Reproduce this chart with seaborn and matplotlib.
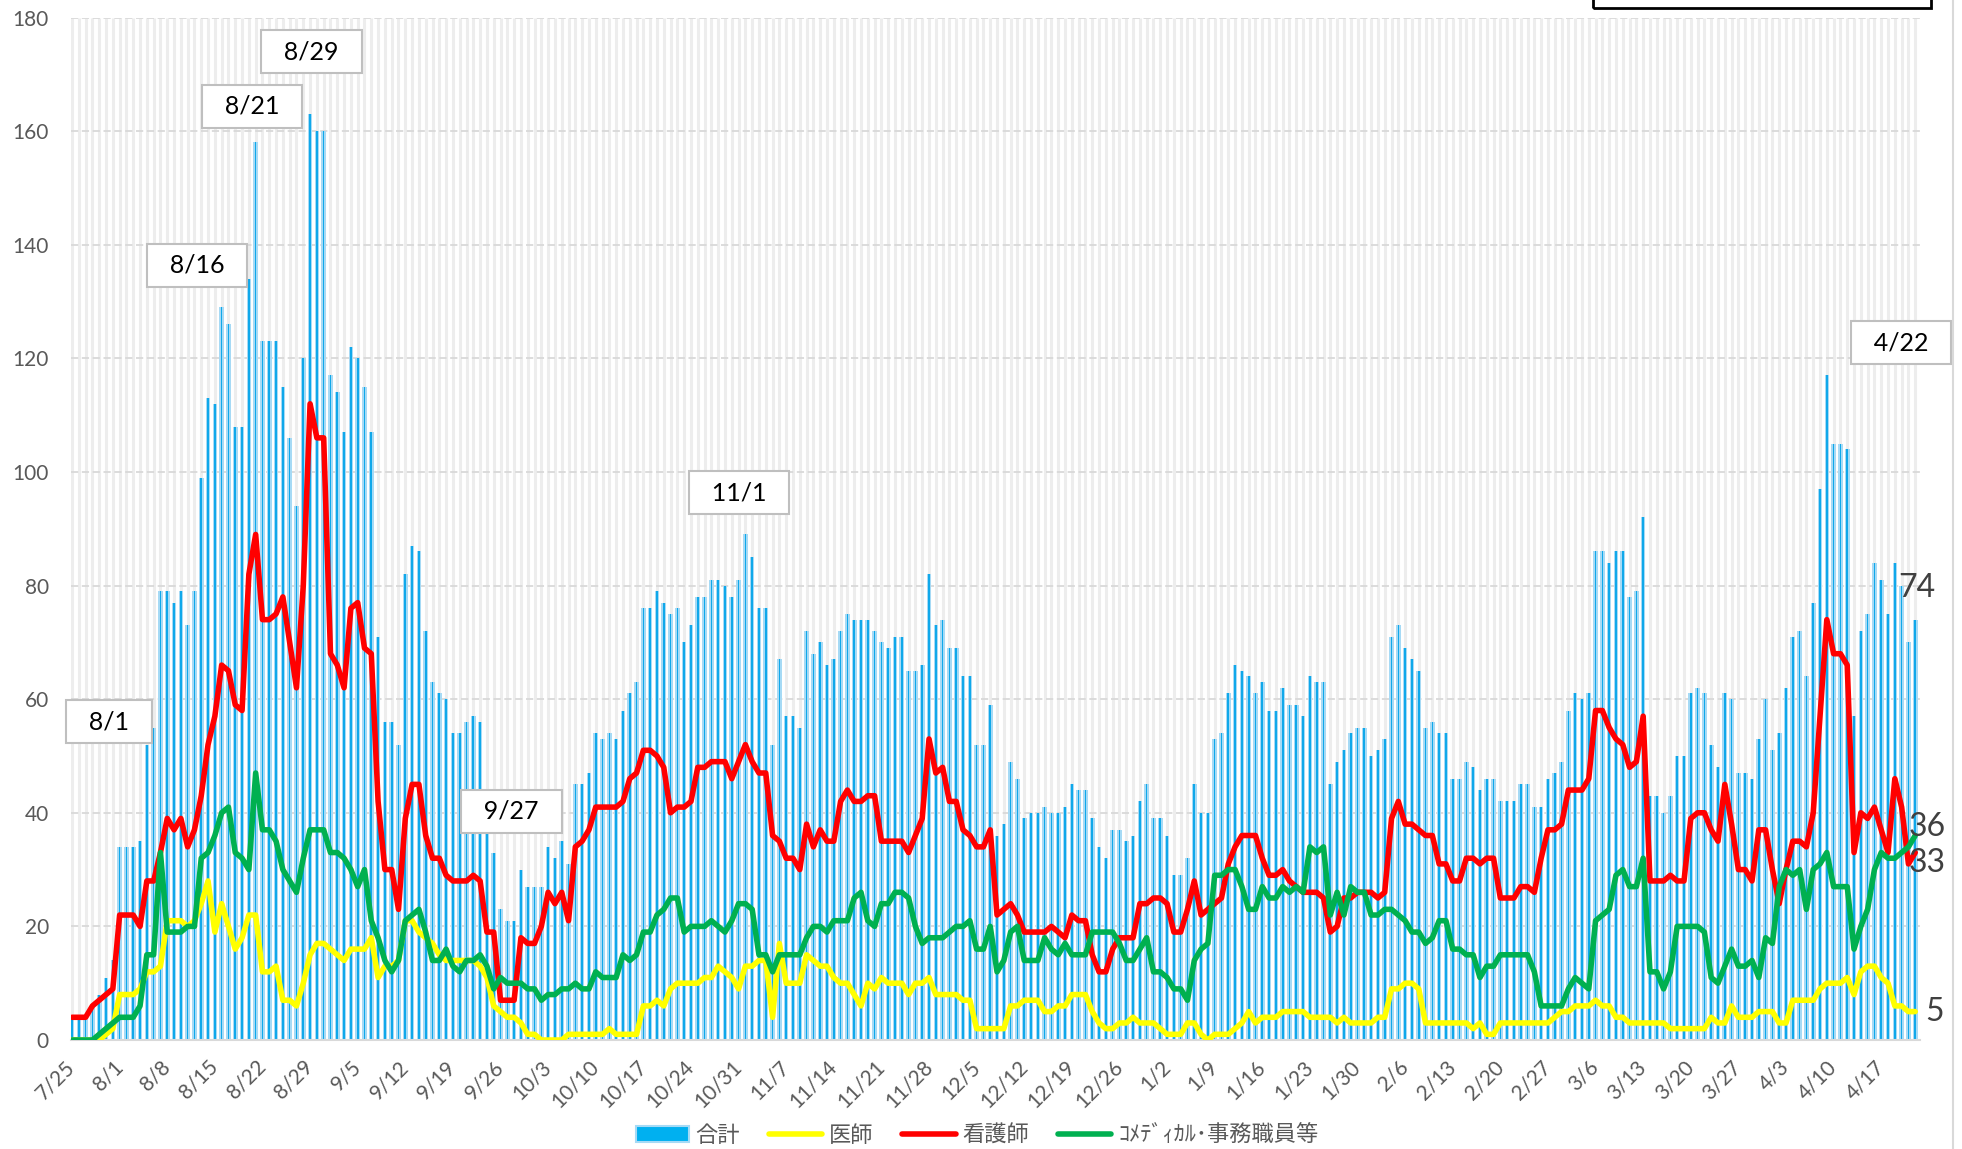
import numpy as np
import pandas as pd
import matplotlib
matplotlib.use("Agg")
import matplotlib.pyplot as plt
import seaborn as sns
from matplotlib.patches import Patch, Rectangle
from matplotlib.lines import Line2D

# daily values 7/25 .. 4/22
total = [4, 4, 4, 6, 8, 11, 14,
         34, 34, 34, 35, 52, 55, 79, 79, 77, 79, 73, 79, 99, 113,
         112, 129, 126, 108, 108, 134, 158, 123, 123, 123, 115, 106, 94, 120,
         163, 160, 160, 117, 114, 107, 122, 120, 115, 107, 71, 56, 56, 52,
         82, 87, 86, 72, 63, 61, 60, 54, 54, 56, 57, 56, 43, 33,
         23, 21, 21, 30, 27, 27, 27, 34, 32, 35, 31, 45, 45, 47,
         54, 53, 54, 53, 58, 61, 63, 76, 76, 79, 77, 75, 76, 70,
         73, 78, 78, 81, 81, 80, 78, 81, 89, 85, 76, 76, 52, 67,
         57, 57, 55, 72, 68, 70, 66, 67, 72, 75, 74, 74, 74, 72,
         70, 69, 71, 71, 65, 65, 66, 82, 73, 74, 69, 69, 64, 64,
         52, 52, 59, 36, 38, 49, 46, 39, 40, 40, 41, 40, 40, 41,
         45, 44, 44, 39, 34, 32, 37, 37, 35, 36, 42, 45, 39, 39,
         36, 29, 29, 32, 45, 40, 40, 53, 54, 61, 66, 65, 64, 61,
         63, 58, 58, 62, 59, 59, 57, 64, 63, 63, 45, 49, 51, 54,
         55, 55, 50, 51, 53, 71, 73, 69, 67, 65, 55, 56, 54, 54,
         46, 46, 49, 48, 44, 46, 46, 42, 42, 42, 45, 45, 41, 41,
         46, 47, 49, 58, 61, 60, 61, 86, 86, 84, 86, 86, 78, 79,
         92, 43, 43, 40, 43, 50, 50, 61, 62, 61, 52, 48, 61, 60,
         47, 47, 46, 53, 60, 51, 54, 62, 71, 72, 64, 77, 97, 117,
         105, 105, 104, 57, 72, 75, 84, 81, 75, 84, 80, 70, 74]

doctor = [0, 0, 0, 0, 0, 1, 2,
          8, 8, 8, 9, 12, 12, 13, 21, 21, 21, 20, 21, 24, 28,
          19, 24, 20, 16, 18, 22, 22, 12, 12, 13, 7, 7, 6, 10,
          15, 17, 17, 16, 15, 14, 16, 16, 16, 18, 11, 13, 13, 14,
          21, 21, 19, 18, 17, 15, 14, 14, 14, 14, 14, 13, 11, 6,
          5, 4, 4, 3, 1, 1, 0, 0, 0, 0, 1, 1, 1, 1,
          1, 1, 2, 1, 1, 1, 1, 6, 6, 7, 6, 9, 10, 10,
          10, 10, 11, 11, 13, 12, 11, 9, 13, 13, 14, 14, 4, 17,
          10, 10, 10, 15, 14, 13, 13, 11, 10, 10, 8, 6, 10, 9,
          11, 10, 10, 10, 8, 10, 10, 11, 8, 8, 8, 8, 7, 7,
          2, 2, 2, 2, 2, 6, 6, 7, 7, 7, 5, 5, 6, 6,
          8, 8, 8, 5, 3, 2, 2, 3, 3, 4, 3, 3, 3, 2,
          1, 1, 1, 3, 3, 1, 0, 1, 1, 1, 2, 3, 5, 3,
          4, 4, 4, 5, 5, 5, 5, 4, 4, 4, 4, 3, 4, 3,
          3, 3, 3, 4, 4, 9, 9, 10, 10, 9, 3, 3, 3, 3,
          3, 3, 3, 2, 3, 1, 1, 3, 3, 3, 3, 3, 3, 3,
          3, 4, 5, 5, 6, 6, 6, 7, 6, 6, 4, 4, 3, 3,
          3, 3, 3, 3, 2, 2, 2, 2, 2, 2, 4, 3, 3, 6,
          4, 4, 4, 5, 5, 5, 3, 3, 7, 7, 7, 7, 9, 10,
          10, 10, 11, 8, 12, 13, 13, 11, 10, 6, 6, 5, 5]

nurse = [4, 4, 4, 6, 7, 8, 9,
         22, 22, 22, 20, 28, 28, 33, 39, 37, 39, 34, 37, 43, 52,
         57, 66, 65, 59, 58, 82, 89, 74, 74, 75, 78, 70, 62, 80,
         112, 106, 106, 68, 66, 62, 76, 77, 69, 68, 42, 30, 30, 23,
         39, 45, 45, 36, 32, 32, 29, 28, 28, 28, 29, 28, 19, 19,
         7, 7, 7, 18, 17, 17, 20, 26, 24, 26, 21, 34, 35, 37,
         41, 41, 41, 41, 42, 46, 47, 51, 51, 50, 48, 40, 41, 41,
         42, 48, 48, 49, 49, 49, 46, 49, 52, 49, 47, 47, 36, 35,
         32, 32, 30, 38, 34, 37, 35, 35, 42, 44, 42, 42, 43, 43,
         35, 35, 35, 35, 33, 36, 39, 53, 47, 48, 42, 42, 37, 36,
         34, 34, 37, 22, 23, 24, 22, 19, 19, 19, 19, 20, 19, 18,
         22, 21, 21, 15, 12, 12, 16, 18, 18, 18, 24, 24, 25, 25,
         24, 19, 19, 23, 28, 22, 23, 24, 25, 31, 34, 36, 36, 36,
         32, 29, 29, 30, 28, 27, 26, 26, 26, 25, 19, 20, 25, 25,
         26, 26, 26, 25, 26, 39, 42, 38, 38, 37, 36, 36, 31, 31,
         28, 28, 32, 32, 31, 32, 32, 25, 25, 25, 27, 27, 26, 32,
         37, 37, 38, 44, 44, 44, 46, 58, 58, 55, 53, 52, 48, 49,
         57, 28, 28, 28, 29, 28, 28, 39, 40, 40, 37, 35, 45, 38,
         30, 30, 28, 37, 37, 30, 24, 30, 35, 35, 34, 40, 57, 74,
         68, 68, 66, 33, 40, 39, 41, 37, 33, 46, 41, 31, 33]

comedical = [0, 0, 0, 0, 1, 2, 3,
             4, 4, 4, 6, 15, 15, 33, 19, 19, 19, 20, 20, 32, 33,
             36, 40, 41, 33, 32, 30, 47, 37, 37, 35, 30, 28, 26, 32,
             37, 37, 37, 33, 33, 32, 30, 27, 30, 21, 18, 14, 12, 14,
             21, 22, 23, 19, 14, 14, 16, 13, 12, 14, 14, 15, 13, 9,
             11, 10, 10, 10, 9, 9, 7, 8, 8, 9, 9, 10, 9, 9,
             12, 11, 11, 11, 15, 14, 15, 19, 19, 22, 23, 25, 25, 19,
             20, 20, 20, 21, 20, 19, 21, 24, 24, 23, 15, 15, 12, 15,
             15, 15, 15, 18, 20, 20, 19, 21, 21, 21, 25, 26, 21, 20,
             24, 24, 26, 26, 25, 20, 17, 18, 18, 18, 19, 20, 20, 21,
             16, 16, 20, 12, 14, 19, 20, 14, 14, 14, 18, 16, 15, 17,
             15, 15, 15, 19, 19, 19, 19, 17, 14, 14, 16, 18, 12, 12,
             11, 9, 9, 7, 14, 16, 17, 29, 29, 30, 30, 27, 23, 23,
             27, 25, 25, 27, 26, 27, 26, 34, 33, 34, 22, 26, 22, 27,
             26, 26, 22, 22, 23, 23, 22, 21, 19, 19, 17, 18, 21, 21,
             16, 16, 15, 15, 11, 13, 13, 15, 15, 15, 15, 15, 12, 6,
             6, 6, 6, 9, 11, 10, 9, 21, 22, 23, 29, 30, 27, 27,
             32, 12, 12, 9, 12, 20, 20, 20, 20, 19, 11, 10, 13, 16,
             13, 13, 14, 11, 18, 17, 27, 30, 29, 30, 23, 30, 31, 33,
             27, 27, 27, 16, 20, 23, 30, 33, 32, 32, 33, 34, 36]

week_labels = ["7/25", "8/1", "8/8", "8/15", "8/22", "8/29", "9/5", "9/12",
               "9/19", "9/26", "10/3", "10/10", "10/17", "10/24", "10/31",
               "11/7", "11/14", "11/21", "11/28", "12/5", "12/12", "12/19",
               "12/26", "1/2", "1/9", "1/16", "1/23", "1/30", "2/6", "2/13",
               "2/20", "2/27", "3/6", "3/13", "3/20", "3/27", "4/3", "4/10",
               "4/17"]

# callout boxes: text, day position, height
callouts = [("8/1", 5.4, 56), ("8/16", 18.4, 136.4), ("8/21", 26.5, 164.4),
            ("8/29", 35.2, 174), ("9/27", 64.6, 40.3), ("11/1", 98.1, 96.3),
            ("4/22", 268.9, 122.7)]

df = pd.DataFrame({"day": np.arange(len(total)), "合計": total, "医師": doctor,
                   "看護師": nurse, "ｺﾒﾃﾞｨｶﾙ･事務職員等": comedical})

sns.set_style("white")
plt.rcParams["font.family"] = ["Lato", "Noto Sans CJK JP", "DejaVu Sans"]

fig = plt.figure(figsize=(19.62, 11.49), dpi=100)
ax = fig.add_axes([71 / 1962, 1 - 1040 / 1149, 1849 / 1962, 1022.5 / 1149])

# light vertical stripes behind every day
ax.vlines(df["day"], 0, 180, color="#EDEDED", lw=2.2, zorder=0)

sns.barplot(data=df, x="day", y="合計", native_scale=True, width=0.68,
            color="#A6DAF5", saturation=1, errorbar=None, linewidth=0,
            ax=ax, zorder=1)
sns.barplot(data=df, x="day", y="合計", native_scale=True, width=0.24,
            color="#10A8EA", saturation=1, errorbar=None, linewidth=0,
            ax=ax, zorder=1)

line_cols = {"医師": "#FFFF00", "看護師": "#FF0000", "ｺﾒﾃﾞｨｶﾙ･事務職員等": "#00B050"}
for name, c in line_cols.items():
    sns.lineplot(data=df, x="day", y=name, color=c, lw=4.0, ax=ax, zorder=3)

ax.set_xlim(-0.15, 271.7)
ax.set_ylim(0, 180)
ax.set_yticks(range(0, 181, 20))
ax.yaxis.grid(True, color="#D9D9D9", ls=(0, (4, 2)), lw=1.3)
ax.set_axisbelow(True)
ax.set_xticks(range(0, len(total), 7))
ax.set_xticklabels(week_labels, rotation=45, ha="right", va="center",
                   rotation_mode="anchor")
ax.set_xlabel("")
ax.set_ylabel("")
ax.tick_params(axis="x", length=7, width=1.5, color="#D9D9D9", pad=10,
               labelsize=15, labelcolor="#595959")
ax.tick_params(axis="y", length=0, pad=16, labelsize=15, labelcolor="#595959")
for s in ["top", "left", "right"]:
    ax.spines[s].set_visible(False)
ax.spines["bottom"].set_color("#D9D9D9")
ax.spines["bottom"].set_linewidth(1.5)

for txt, xd, yv in callouts:
    ax.text(xd, yv, "  " + txt + "  ", ha="center", va="center", fontsize=18,
            color="black", zorder=6, clip_on=False,
            bbox=dict(boxstyle="square,pad=0.4", fc="white", ec="#BFBFBF", lw=1.5))

# end-of-series labels
ends = [(total[-1], -17, 32), (comedical[-1], -7, 8), (nurse[-1], -7, -10), (doctor[-1], 10, 0)]
for val, dx, dy in ends:
    ax.annotate(str(val), xy=(len(total) - 1, val), xytext=(dx * 0.72, dy * 0.72),
                textcoords="offset points", ha="left", va="center", fontsize=23,
                color="#404040", zorder=7, annotation_clip=False)

handles = [Patch(facecolor="#00B0F0", edgecolor="#A6DAF5", lw=1.5),
           Line2D([], [], color="#FFFF00", lw=4),
           Line2D([], [], color="#FF0000", lw=4),
           Line2D([], [], color="#00B050", lw=4)]
fig.legend(handles, list(df.columns[1:]), loc="center",
           bbox_to_anchor=(977 / 1962, 1 - 1135 / 1149), ncol=4, frameon=False,
           fontsize=16, labelcolor="#595959", handlelength=2.4,
           handletextpad=0.3, columnspacing=1.3)

# frame box cut off at the top right, and the chart-area border
fig.patches.append(Rectangle((1593 / 1962, 1 - 7.5 / 1149), 338 / 1962, 0.05,
                             transform=fig.transFigure, fill=False, ec="black", lw=2))
fig.lines.append(Line2D([1953 / 1962, 1953 / 1962], [0, 1], transform=fig.transFigure,
                        color="#D9D9D9", lw=1.5))

fig.savefig("out.png", dpi=100)
